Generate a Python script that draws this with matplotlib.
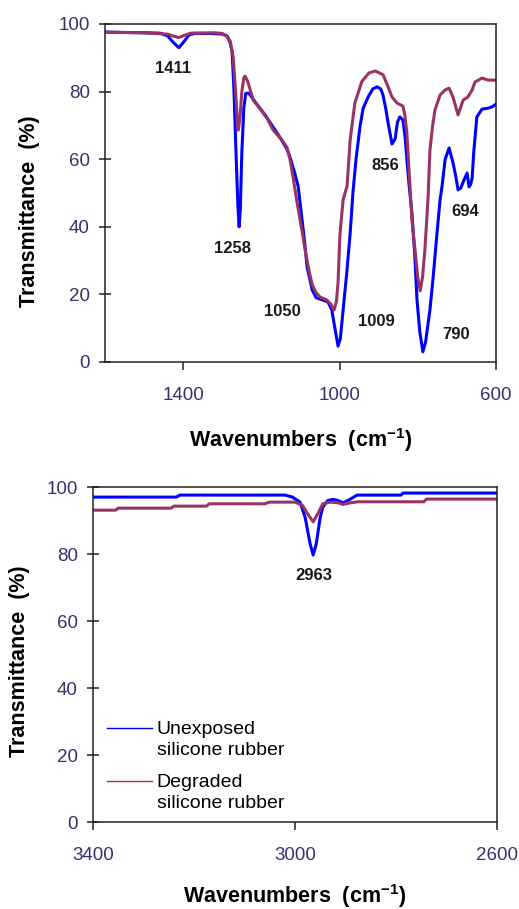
import matplotlib
matplotlib.use('Agg')
import matplotlib.pyplot as plt
from matplotlib.legend_handler import HandlerLine2D

plt.rcParams['font.family'] = ['Liberation Sans', 'DejaVu Sans']
plt.rcParams['mathtext.fontset'] = 'custom'
plt.rcParams['mathtext.rm'] = 'Liberation Sans'
plt.rcParams['mathtext.bf'] = 'Liberation Sans:bold'

# ---- fingerprint region (1600-600 cm-1) ----
wn_low_unexp = [1600, 1560, 1500, 1460, 1440, 1425, 1411, 1398, 1385, 1370, 1330, 1300,
                1288, 1280, 1275, 1270, 1265, 1260, 1257, 1254, 1250, 1245, 1240, 1232,
                1210, 1190, 1170, 1150, 1135, 1127, 1115, 1106, 1100, 1090, 1083, 1070,
                1060, 1050, 1030, 1020, 1012, 1004, 998, 991, 982, 973, 966, 958, 948,
                940, 927, 915, 904, 895, 889, 882, 876, 866, 858, 852, 846, 838, 832,
                828, 822, 815, 808, 802, 795, 787, 780, 769, 760, 751, 743, 738, 730,
                720, 710, 703, 697, 690, 682, 674, 669, 665, 661, 657, 649, 636, 620,
                610, 600]
t_low_unexp = [97.6, 97.5, 97.4, 97.3, 96.5, 94.5, 93.0, 94.8, 96.8, 97.2, 97.2, 97.0,
               96.5, 94.5, 92.0, 80.0, 62.0, 46.0, 40.0, 45.0, 62.0, 75.0, 79.5, 79.5,
               76.0, 73.0, 69.5, 66.0, 63.0, 60.7, 56.0, 52.0, 46.0, 36.0, 28.0, 21.3,
               19.0, 18.6, 17.8, 15.4, 10.0, 4.7, 7.0, 15.4, 26.0, 38.0, 50.0, 60.0, 69.5,
               75.0, 78.4, 80.8, 81.4, 80.8, 79.0, 75.0, 70.7, 64.5, 66.0, 71.0, 72.5, 71.6, 66.0,
               60.0, 52.0, 44.0, 32.0, 18.3, 9.0, 3.0, 6.0, 15.4, 26.0, 38.0, 48.0, 52.0, 60.0,
               63.3, 58.9, 55.0, 50.9, 51.5, 53.8, 55.9, 51.8, 52.5, 54.4, 62.0, 72.5, 74.8, 75.1,
               75.5, 76.3]

wn_low_degr = [1600, 1500, 1440, 1425, 1411, 1398, 1380, 1320, 1300, 1290, 1280, 1272,
               1266, 1262, 1259, 1255, 1250, 1245, 1242, 1235, 1221, 1204, 1185, 1170,
               1150, 1135, 1127, 1119, 1110, 1104, 1095, 1088, 1080, 1070, 1060, 1050,
               1032, 1022, 1014, 1008, 1004, 999, 991, 981, 973, 961, 943, 925, 909, 889,
               878, 866, 853, 838, 833, 828, 820, 815, 807, 800, 794, 788, 782, 774, 769,
               762, 756, 743, 730, 720, 710, 703, 697, 690, 684, 672, 661, 654, 636, 620,
               600]
t_low_degr = [97.6, 97.4, 97.0, 96.4, 96.0, 96.6, 97.3, 97.4, 97.2, 96.5, 95.0, 90.0,
              80.0, 72.0, 68.6, 72.0, 80.0, 84.0, 84.6, 83.0, 77.5, 75.0, 72.0, 68.6,
              66.0, 63.6, 60.0, 54.7, 48.0, 44.0, 38.0, 33.0, 28.0, 22.8, 20.5, 19.2,
              18.3, 17.0, 15.4, 18.0, 23.4, 38.0, 48.0, 52.0, 65.7, 76.6, 83.0, 85.5, 86.1, 85.0,
              82.0, 78.4, 76.6, 75.7, 73.0, 67.8, 51.8, 42.0, 33.0, 25.0, 21.0, 25.0, 33.0, 48.0, 62.7,
              70.0, 74.6, 79.0, 80.5, 81.0, 78.4, 75.5, 73.1, 75.5, 77.5, 78.4, 80.5, 82.8, 84.0, 83.4,
              83.4]

low_peaks = ['1411', '1258', '1050', '1009', '856', '790', '694']
low_peak_x = [1426, 1273, 1147, 907, 884, 702, 679]
low_peak_y = [86.7, 33.7, 14.8, 12.1, 58.0, 8.0, 44.4]

# ---- C-H stretch region (3400-2600 cm-1) ----
wn_high_unexp = [3400, 3235, 3228, 3020, 3005, 2990, 2980, 2970, 2964, 2958, 2950, 2945,
                 2935, 2925, 2915, 2905, 2895, 2877, 2790, 2786, 2600]
t_high_unexp = [97.0, 97.0, 97.6, 97.6, 97.0, 95.5, 91.0, 83.0, 79.7, 83.0, 91.0, 94.0,
                96.0, 96.3, 96.0, 95.3, 96.0, 97.6, 97.6, 98.2, 98.2]

wn_high_degr = [3400, 3355, 3350, 3245, 3240, 3175, 3170, 3060, 3050, 3000, 2985, 2975,
                2964, 2955, 2945, 2930, 2915, 2905, 2890, 2875, 2745, 2740, 2600]
t_high_degr = [93.1, 93.1, 93.7, 93.7, 94.3, 94.3, 95.0, 95.0, 95.5, 95.5, 94.5, 92.0,
               89.6, 92.0, 95.0, 95.5, 95.3, 94.8, 95.3, 95.6, 95.6, 96.4, 96.4]

high_peaks = ['2963']
high_peak_x = [2962]
high_peak_y = [73.7]

series_labels = ['Unexposed\nsilicone rubber', 'Degraded\nsilicone rubber']
blue = '#0000ff'
plum = '#993366'
tick_col = '#3b2f6e'


# legend line sits next to the first line of a two-line label
class FirstLineHandler(HandlerLine2D):
    def create_artists(self, legend, orig_handle, xdescent, ydescent, width, height,
                       fontsize, trans):
        artists = super().create_artists(legend, orig_handle, xdescent, ydescent, width,
                                         height, fontsize, trans)
        for a in artists:
            a.set_ydata([y + 0.6 * fontsize for y in a.get_ydata()])
        return artists


fig = plt.figure(figsize=(5.19, 9.09), dpi=100)
ax1 = fig.add_axes([0.2023, 0.6018, 0.7534, 0.3718])
ax2 = fig.add_axes([0.1792, 0.0957, 0.7784, 0.3685])


def style_axes(ax, xlim, xticks, ylabel_xy, xlabel_pad):
    ax.set_xlim(*xlim)
    ax.set_ylim(0, 100)
    ax.set_xticks(xticks)
    ax.set_yticks(range(0, 101, 20))
    for sp in ax.spines.values():
        sp.set_color('#222222')
        sp.set_linewidth(1.1)
    ax.tick_params(axis='y', direction='inout', length=8, width=1.1, pad=7,
                   labelsize=13.5, labelcolor=tick_col, color='#222222')
    ax.tick_params(axis='x', direction='out', length=6, width=1.1, pad=12,
                   labelsize=13.5, labelcolor=tick_col, color='#222222')
    ax.set_ylabel('Transmittance  (%)', fontsize=15.5, fontweight='bold')
    ax.yaxis.set_label_coords(*ylabel_xy)
    ax.set_xlabel(r'Wavenumbers  (cm$^{\mathbf{-1}}$)', fontsize=15.5, fontweight='bold',
                  labelpad=xlabel_pad)


# top panel
ax1.plot(wn_low_unexp, t_low_unexp, color=blue, lw=2.2, label=series_labels[0])
ax1.plot(wn_low_degr, t_low_degr, color=plum, lw=2.2, label=series_labels[1])
for txt, x, y in zip(low_peaks, low_peak_x, low_peak_y):
    ax1.text(x, y, txt, ha='center', va='center', fontsize=12, fontweight='bold', color='#1a1a1a')
style_axes(ax1, (1600, 600), [1400, 1000, 600], (-0.166, 0.447), 16)

# bottom panel
ax2.plot(wn_high_unexp, t_high_unexp, color=blue, lw=2.2, label=series_labels[0])
ax2.plot(wn_high_degr, t_high_degr, color=plum, lw=2.2, label=series_labels[1])
for txt, x, y in zip(high_peaks, high_peak_x, high_peak_y):
    ax2.text(x, y, txt, ha='center', va='center', fontsize=12, fontweight='bold', color='#1a1a1a')
style_axes(ax2, (3400, 2600), [3400, 3000, 2600], (-0.155, 0.48), 13)

leg = ax2.legend(loc='lower left', bbox_to_anchor=(0.035, 0.03), frameon=False, fontsize=14,
                 handlelength=2.3, handletextpad=0.25, labelspacing=0.8,
                 borderpad=0, borderaxespad=0,
                 handler_map={plt.Line2D: FirstLineHandler()})
for line in leg.get_lines():
    line.set_linewidth(1.0)
for t in leg.get_texts():
    t.set_linespacing(1.3)

fig.savefig('out.png', dpi=100)
